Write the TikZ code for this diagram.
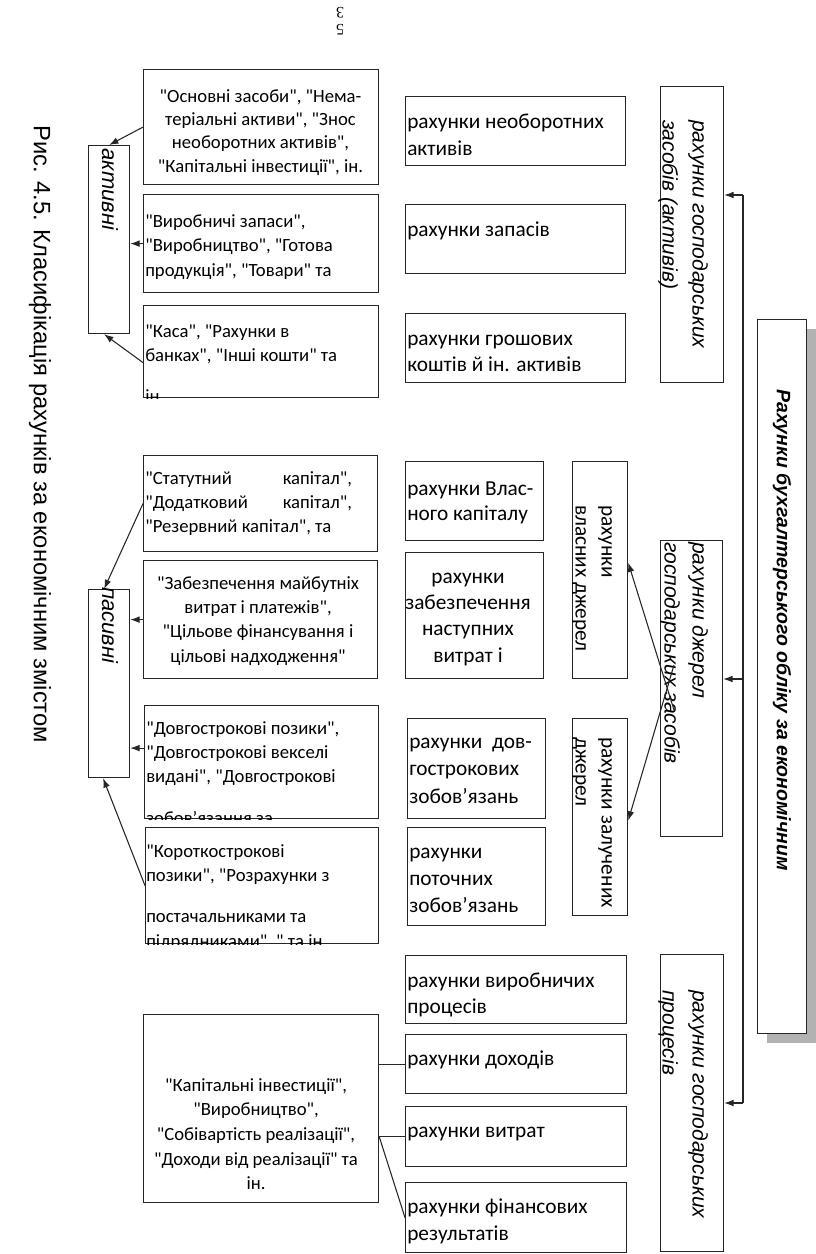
\documentclass[tikz,border=0pt]{standalone}
\usepackage{fontspec}
\setmainfont{Carlito}
\newfontfamily\arialf{Liberation Sans}
\newfontfamily\serf{Liberation Serif}
\usetikzlibrary{arrows.meta,calc}
\newcommand\q{\XeTeXglyph\XeTeXcharglyph34\relax}
\newcommand\bx[5]{\node[box,anchor=north west,minimum width={(#4-#2)*0.75pt},minimum height={(#5-#3)*0.75pt}] (#1) at (#2,#3) {};}
\begin{document}
\begin{tikzpicture}[x=0.75pt,y=-0.75pt,
 box/.style={draw=black!85,line width=0.9pt,inner sep=0pt,fill=white},
 arr/.style={draw=black!85,line width=0.8pt,-{Latex[length=7pt,width=5pt]}},
 ln/.style={draw=black!85,line width=0.8pt},
 lt/.style={font=\fontsize{14}{#1}\selectfont,inner sep=0pt,align=left,anchor=north west},
 lc/.style={font=\fontsize{14}{#1}\selectfont,inner sep=0pt,align=center,anchor=north},
 lb/.style={font=\fontsize{14}{16}\selectfont,inner sep=0pt,anchor=base west},
 rt/.style={font=\fontsize{16}{#1}\selectfont,inner sep=0pt,align=left,anchor=north west},
 rc/.style={font=\fontsize{16}{#1}\selectfont,inner sep=0pt,align=center,anchor=north},
 vt/.style={font=\fontsize{16}{#1}\selectfont,inner sep=0pt,align=left,anchor=north west,rotate=-90},
 vi/.style={font=\arialf\itshape\fontsize{15.8}{#1}\selectfont,inner sep=0pt,align=left,anchor=north west,rotate=-90},
 vs/.style={font=\arialf\itshape\fontsize{16.5}{20}\selectfont,inner sep=0pt,anchor=west,rotate=-90}
]
\useasboundingbox (0,0) rectangle (816,1254);
\fill[white] (0,0) rectangle (816,1254);

% page number
\node[font=\serf\fontsize{12}{14}\selectfont,rotate=180,inner sep=0pt] (pg3) at (340,13) {3};
\node[font=\serf\fontsize{12}{14}\selectfont,rotate=180,inner sep=0pt] (pg5) at (340,30) {5};

% caption
\node[font=\arialf\fontsize{17.8}{20}\selectfont,rotate=-90,anchor=west,inner sep=0pt] (cap) at (40,125)
  {Рис. 4.5. Класифікація рахунків за економічним змістом};

% main box with shadow
\fill[black!30] (767,329) rectangle (816,1043);
\bx{M}{757}{319}{806}{1033}
\node[font=\arialf\bfseries\itshape\fontsize{14.6}{17}\selectfont,rotate=-90,anchor=west,inner sep=0pt] (title) at (782,389)
  {Рахунки бухгалтерського обліку за економічним};

% level 2 boxes
\bx{A}{660}{86}{723}{382}
\bx{B}{660}{540}{722}{836}
\bx{C}{660}{954}{723}{1251}
\node[vi=22.5] (At) at (713.8,120) {\strut рахунки господарських\\засобів (активів)};
\node[vi=21] (Bt) at (712.4,542) {\strut рахунки джерел\\господарських засобів};
\node[vi=22.5] (Ct) at (713.8,990) {\strut рахунки господарських\\процесів};

% trunk
\coordinate (tA) at (743,195);
\coordinate (tB) at (743,679);
\coordinate (tC) at (743,1103);
\draw[ln] (tA) -- (tC);
\draw[arr] (tA) -- (tA -| A.east);
\draw[arr] (tB) -- (tB -| B.east);
\draw[arr] (tC) -- (tC -| C.east);

% sources boxes
\bx{V1}{572}{461}{627}{678}
\bx{V2}{572}{718}{627}{915}
\node[vt=19.5] (V1t) at (620,505) {\strut рахунки\\власних джерел};
\node[vt=19.5] (V2t) at (620,737) {\strut рахунки залучених\\джерел};
\coordinate (bx1) at (674,710);
\coordinate (bx2) at (674,665);
\draw[arr] (bx1) -- ($(V1.east)+(0,-7.5)$);
\draw[arr] (bx2) -- ($(V2.east)+(0,3.5)$);

% level 3 boxes
\bx{R1}{405}{96}{625}{165}
\bx{R2}{405}{204}{625}{273}
\bx{R3}{405}{313}{625}{382}
\bx{R4}{405}{461}{543}{540}
\bx{R5}{405}{552}{543}{678}
\bx{R6}{407}{718}{545}{818}
\bx{R7}{407}{827}{545}{925}
\bx{B1}{405}{955}{626}{1023}
\bx{B2}{405}{1034}{626}{1093}
\bx{B3}{405}{1106}{626}{1166}
\bx{B4}{405}{1182}{626}{1252}
\node[rt=20.25] (R1t) at (407,109) {\strut рахунки необоротних\\активів};
\node[rt=20] (R2t) at (407,218) {\strut рахунки запасів};
\node[rt=19.5] (R3t) at (407,326.8) {\strut рахунки грошових\\коштів й ін. активів};
\node[rt=18.75] (R4t) at (407,477.5) {\strut рахунки Влас-\\ного капіталу};
\node[rc=19.7] (R5t) at (468,564.6) {\strut рахунки\\забезпечення\\наступних\\витрат і};
\node[rt=20.6] (R6t) at (409,728.8) {\strut\hbox to 92pt{рахунки\hfill дов-}\\гострокових\\зобов’язань};
\node[rt=20.25] (R7t) at (409,839) {\strut рахунки\\поточних\\зобов’язань};
\node[rt=19.5] (B1t) at (407,969) {\strut рахунки виробничих\\процесів};
\node[rt=20] (B2t) at (407,1047) {\strut рахунки доходів};
\node[rt=20] (B3t) at (407,1119) {\strut рахунки витрат};
\node[rt=20.25] (B4t) at (407,1194) {\strut рахунки фінансових\\результатів};

% left: active / passive
\bx{act}{88}{145}{129}{333}
\bx{pas}{88}{589}{129}{777}
\node[vs] (actt) at (110,148) {активні};
\node[vs] (past) at (110,587) {пасивні};

% level 4 boxes
\bx{L1}{143}{69}{378}{184}
\bx{L2}{143}{194}{378}{292}
\bx{L3}{143}{305}{378}{397}
\bx{P1}{143}{455}{377}{551}
\bx{P2}{143}{560}{377}{678}
\bx{P3}{144}{705}{378}{818}
\bx{P4}{145}{827}{378}{943}
\bx{Q}{143}{1014}{378}{1202}

\node[lc=17.5] (L1t) at (260.5,85.7) {\strut\q{}Основні засоби\q{}, \q{}Нема-\\теріальні активи\q{}, \q{}Знос\\необоротних активів\q{},\\\q{}Капітальні інвестиції\q{}, ін.};
\node[lt=18.4] (L2t) at (145,209.8) {\strut\q{}Виробничі запаси\q{},\\\q{}Виробництво\q{}, \q{}Готова\\продукція\q{}, \q{}Товари\q{} та};
\begin{scope}
\clip (L3.north west) rectangle (L3.south east);
\node[lt=18] (L3t) at (145,320) {\strut\q{}Каса\q{}, \q{}Рахунки в\\банках\q{}, \q{}Інші кошти\q{} та};
\node[lb] (L3u) at (145,402) {ін.};
\end{scope}
\node[lt=18] (P1t) at (145,467) {\strut\hbox to 155pt{\q{}Статутний\hfill капітал\q{},}\\\hbox to 155pt{\q{}Додатковий\hfill капітал\q{},}\\\q{}Резервний капітал\q{}, та};
\node[lc=18.2] (P2t) at (258,572) {\strut\q{}Забезпечення майбутніх\\витрат і платежів\q{},\\\q{}Цільове фінансування і\\цільові надходження\q{}};
\begin{scope}
\clip (P3.north west) rectangle (P3.south east);
\node[lt=18] (P3t) at (146,717) {\strut\q{}Довгострокові позики\q{},\\\q{}Довгострокові векселі\\видані\q{}, \q{}Довгострокові};
\node[lb] (P3u) at (146,824) {зобов'язання за};
\end{scope}
\begin{scope}
\clip (P4.north west) rectangle (P4.south east);
\node[lt=18] (P4t) at (146,840) {\strut\q{}Короткострокові\\позики\q{}, \q{}Розрахунки з};
\node[lb] (P4u) at (146,922) {постачальниками та};
\node[lb] (P4v) at (146,947) {підрядниками\q{}, \q{} та ін};
\end{scope}
\node[lc=18.4] (Qt) at (256,1074) {\strut\q{}Капітальні інвестиції\q{},\\\q{}Виробництво\q{},\\\q{}Собівартість реалізації\q{},\\\q{}Доходи від реалізації\q{} та\\ін.};

% arrows to active / passive
\draw[arr] (L1.west) -- (act.north);
\draw[arr] (L2.west) -- (L2.west -| act.east);
\draw[arr] ($(L3.west)+(0,11)$) -- ($(act.south)+(-5,0)$);
\draw[arr] (P1.west) -- ($(pas.north)+(-5,0)$);
\draw[arr] (P2.west) -- (P2.west -| pas.east);
\coordinate (p3a) at ($(P3.west)+(0,-14)$);
\draw[arr] (p3a) -- (p3a -| pas.east);
\draw[arr] (P4.west) -- ($(pas.south)+(-6,0)$);

% bottom connectors
\draw[ln] (B2.west -| Q.east) -- (B2.west);
\draw[ln] (B3.west -| Q.east) -- (B3.west);
\draw[ln] (B3.west -| Q.east) -- (B4.west);
\end{tikzpicture}
\end{document}
